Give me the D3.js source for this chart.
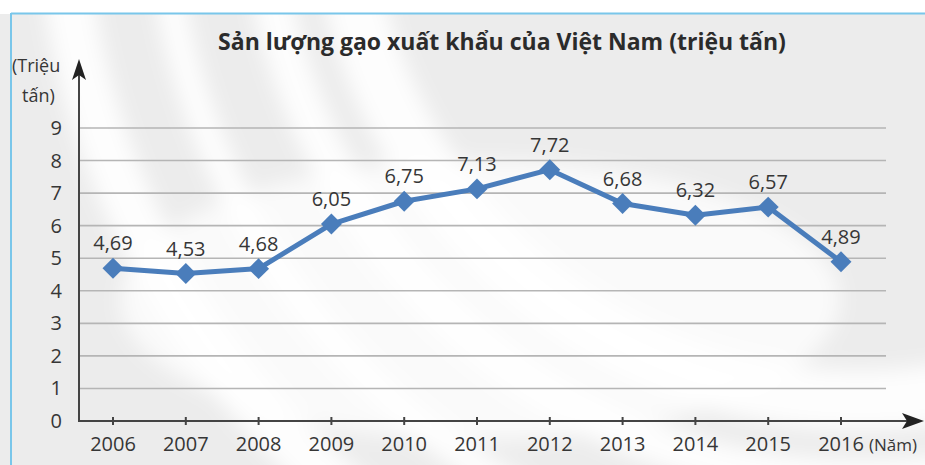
<!DOCTYPE html>
<html>
<head>
<meta charset="utf-8">
<script src="https://cdn.jsdelivr.net/npm/d3@7"></script>
<style>
  body { margin: 0; background: #fff; }
  svg { display: block; font-family: "Open Sans", "Noto Sans", sans-serif; }
</style>
</head>
<body>
<svg id="chart" width="925" height="465"></svg>
<script>
// data
const years = [2006, 2007, 2008, 2009, 2010, 2011, 2012, 2013, 2014, 2015, 2016];
const values = [4.69, 4.53, 4.68, 6.05, 6.75, 7.13, 7.72, 6.68, 6.32, 6.57, 4.89];
const yTicks = [0, 1, 2, 3, 4, 5, 6, 7, 8, 9];

const svg = d3.select('#chart');
const W = 925, H = 465;

// background watermark (rough)
const defs = svg.append('defs');
defs.append('filter').attr('id', 'blur')
    .append('feGaussianBlur').attr('stdDeviation', 10);
svg.append('rect').attr('x', 0).attr('y', 0).attr('width', W).attr('height', H).attr('fill', '#fff');
svg.append('rect').attr('x', 0).attr('y', 14).attr('width', W).attr('height', H - 14).attr('fill', '#ececec');
let bg = svg.append('g').attr('filter', 'url(#blur)');
[[520, 60], [600, 40], [700, 30], [800, 50]].forEach(a => {
    bg.append('circle')
        .attr('cx', 860).attr('cy', -120)
        .attr('r', a[0])
        .attr('fill', 'none')
        .attr('stroke', '#fff')
        .attr('stroke-width', a[1])
        .attr('opacity', 0.9);
});
bg.append('ellipse').attr('cx', 480).attr('cy', 300).attr('rx', 360).attr('ry', 140)
    .attr('fill', '#fff').attr('opacity', 0.75);

// frame
svg.append('line').attr('x1', 11).attr('x2', W).attr('y1', 13.5).attr('y2', 13.5)
    .attr('stroke', '#79c6ea').attr('stroke-width', 2);
svg.append('line').attr('x1', 11).attr('x2', 11).attr('y1', 13).attr('y2', H)
    .attr('stroke', '#79c6ea').attr('stroke-width', 2);

const x0 = 79, xEnd = 886;
const x = d3.scalePoint().domain(years).range([113, 841]);
const y = d3.scaleLinear().domain([0, 9]).range([421, 128]);
const txt = '#363636';

// gridlines
svg.append('g').selectAll('line').data(yTicks.slice(1)).join('line')
    .attr('x1', x0).attr('x2', xEnd)
    .attr('y1', d => y(d)).attr('y2', d => y(d))
    .attr('stroke', '#b5b5b5').attr('stroke-width', 1.6);

// y tick labels
svg.append('g').selectAll('text').data(yTicks).join('text')
    .attr('x', 62).attr('y', d => y(d) + 7)
    .attr('text-anchor', 'end')
    .attr('font-size', 20).attr('fill', txt)
    .text(d => d);

// axes with arrows
const ax = '#444';
svg.append('line').attr('x1', x0).attr('x2', x0).attr('y1', y(0) + 1).attr('y2', 70)
    .attr('stroke', ax).attr('stroke-width', 2);
svg.append('path').attr('d', `M${x0},59 L${x0 - 7},80 L${x0},75 L${x0 + 7},80 Z`).attr('fill', '#222');
svg.append('line').attr('x1', x0).attr('x2', 912).attr('y1', y(0)).attr('y2', y(0))
    .attr('stroke', ax).attr('stroke-width', 2);
svg.append('path').attr('d', `M924,${y(0)} L902,${y(0) - 8} L907,${y(0)} L902,${y(0) + 8} Z`).attr('fill', '#222');

// x ticks
svg.append('g').selectAll('line').data(years).join('line')
    .attr('x1', d => x(d)).attr('x2', d => x(d))
    .attr('y1', y(0) - 4).attr('y2', y(0) + 4)
    .attr('stroke', ax).attr('stroke-width', 2);
svg.append('g').selectAll('text').data(years).join('text')
    .attr('x', d => x(d)).attr('y', 451)
    .attr('text-anchor', 'middle')
    .attr('font-size', 20).attr('fill', txt)
    .text(d => d);
svg.append('text').attr('x', 869).attr('y', 451)
    .attr('font-size', 17).attr('fill', txt).text('(Năm)');

// y axis title
svg.append('text').attr('x', 12).attr('y', 72)
    .attr('font-size', 18).attr('fill', txt).text('(Triệu');
svg.append('text').attr('x', 22).attr('y', 102)
    .attr('font-size', 18).attr('fill', txt).text('tấn)');

// title
svg.append('text').attr('x', 502).attr('y', 50)
    .attr('text-anchor', 'middle')
    .attr('font-size', 23).attr('font-weight', 'bold').attr('fill', '#2b2b2b')
    .text('Sản lượng gạo xuất khẩu của Việt Nam (triệu tấn)');

// line
const pts = years.map((yr, i) => ({ yr: yr, v: values[i] }));
svg.append('path').datum(pts)
    .attr('d', d3.line().x(d => x(d.yr)).y(d => y(d.v)))
    .attr('fill', 'none').attr('stroke', '#4a7dbb').attr('stroke-width', 5)
    .attr('stroke-linejoin', 'round');
svg.append('g').selectAll('path').data(pts).join('path')
    .attr('d', d3.symbol().type(d3.symbolDiamond2).size(280))
    .attr('transform', d => `translate(${x(d.yr)},${y(d.v)})`)
    .attr('fill', '#4a7dbb');

// labels
svg.append('g').selectAll('text').data(pts).join('text')
    .attr('x', d => x(d.yr)).attr('y', d => y(d.v) - 18)
    .attr('text-anchor', 'middle')
    .attr('font-size', 20).attr('fill', txt)
    .text(d => d3.format('.2f')(d.v).replace('.', ','));
</script>
</body>
</html>
